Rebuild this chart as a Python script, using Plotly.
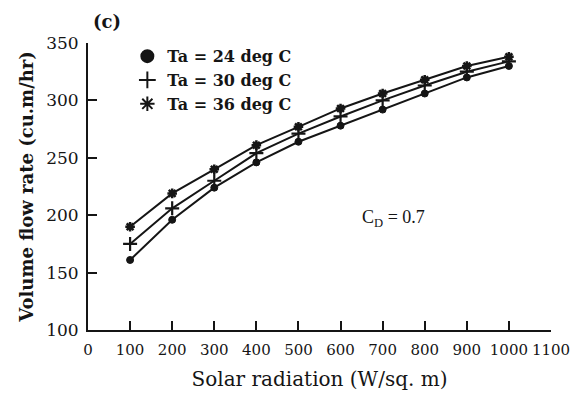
import plotly.graph_objects as go

radiation = [100, 200, 300, 400, 500, 600, 700, 800, 900, 1000]
flow_24 = [161, 196, 224, 246, 264, 278, 292, 306, 320, 330]
flow_30 = [175, 206, 230, 254, 271, 286, 300, 313, 325, 334]
flow_36 = [190, 219, 240, 261, 277, 293, 306, 318, 330, 338]
labels = ["<b>Ta = 24 deg C</b>", "<b>Ta = 30 deg C</b>", "<b>Ta = 36 deg C</b>"]
x_ticks = list(range(0, 1101, 100))
y_ticks = [100, 150, 200, 250, 300, 350]

FONT = "DejaVu Serif"
INK = "#151515"

series = [
    (flow_24, "circle", 7, 1),
    (flow_30, "cross-thin-open", 10, 2.2),
    (flow_36, "asterisk-open", 8, 2.5),
]

fig = go.Figure()
for ys, sym, sz, lw in series:
    fig.add_trace(go.Scatter(
        x=radiation, y=ys, mode="lines+markers", showlegend=False,
        line=dict(color=INK, width=2),
        marker=dict(symbol=sym, size=sz, color=INK, line=dict(color=INK, width=lw)),
    ))
for (ys, sym, sz, lw), lab in zip(series, labels):
    fig.add_trace(go.Scatter(
        x=[None], y=[None], mode="markers", name=lab,
        marker=dict(symbol=sym, size=sz, color=INK, line=dict(color=INK, width=lw)),
    ))

fig.update_layout(
    width=582, height=399,
    margin=dict(l=88, r=21, t=43, b=68),
    paper_bgcolor="white", plot_bgcolor="white",
    font=dict(family=FONT, size=14, color=INK),
    legend=dict(x=0.085, y=1.013, xanchor="left", yanchor="top",
                bgcolor="rgba(0,0,0,0)", font=dict(family=FONT, size=16, color=INK),
                itemsizing="constant", itemwidth=30, tracegroupgap=0),
    xaxis=dict(range=[0, 1100], tickvals=x_ticks, ticks="inside", ticklen=9,
               tickwidth=1.5, tickcolor=INK, showline=True, linecolor=INK, linewidth=2,
               showgrid=False, zeroline=False, ticklabelstandoff=5, tickangle=0,
               tickfont=dict(family=FONT, size=15),
               title=dict(text="Solar radiation (W/sq. m)", font=dict(family=FONT, size=20),
                          standoff=14)),
    yaxis=dict(range=[100, 350], tickvals=y_ticks, ticks="inside", ticklen=9,
               tickwidth=1.5, tickcolor=INK, showline=True, linecolor=INK, linewidth=2,
               showgrid=False, zeroline=False, ticklabelstandoff=4,
               tickfont=dict(family=FONT, size=17),
               title=dict(text="<b>Volume flow rate (cu.m/hr)</b>",
                          font=dict(family=FONT, size=18), standoff=8)),
    annotations=[
        dict(text="<b>(c)</b>", x=0.042, y=1.075, xref="paper", yref="paper", showarrow=False,
             xanchor="center", yanchor="middle",
             font=dict(family=FONT, size=18, color=INK)),
        dict(text="C<sub>D</sub> = 0.7", x=0.66, y=0.39, xref="paper", yref="paper",
             showarrow=False, font=dict(family="Liberation Serif", size=18, color=INK)),
    ],
)

fig.write_html("out.html")
